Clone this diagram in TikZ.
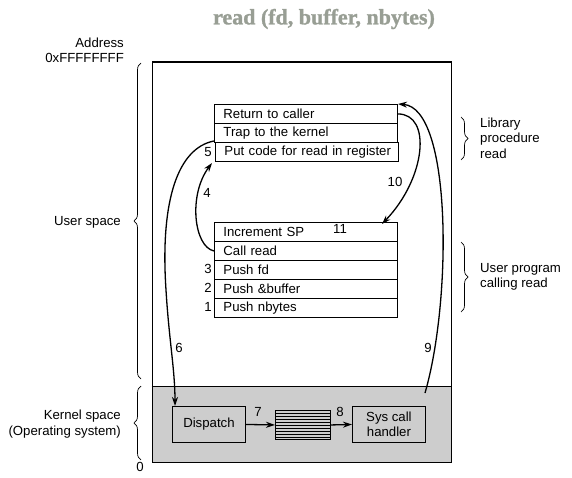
\documentclass[tikz,border=0pt]{standalone}
\usepackage{fontspec}
\setmainfont{Liberation Sans}
\newfontfamily\titlefont[FakeBold=1.2]{Liberation Serif Bold}
\usetikzlibrary{arrows.meta,decorations.pathreplacing}
\definecolor{kgray}{RGB}{205,205,205}
\definecolor{titlegray}{RGB}{152,158,148}
\begin{document}
\begin{tikzpicture}[x=1pt,y=-1pt,
  font=\fontsize{13.2}{15.5}\selectfont,
  row/.style={draw,line width=0.9pt,anchor=north west,minimum width=183pt,minimum height=19pt,
    text width=169pt,inner xsep=7pt,inner ysep=0pt,align=left},
  kbox/.style={draw,line width=0.9pt,fill=kgray,minimum width=73pt,minimum height=36pt,inner sep=0pt,align=center,anchor=north west},
  lbl/.style={inner sep=0pt},
  conn/.style={line width=1.3pt,-{Stealth[length=9pt,width=6pt]}},
  bracestyle/.style={line width=0.7pt,decorate,decoration={brace,amplitude=7pt}}
]
\useasboundingbox (0,0) rectangle (572,478);
% title
\node[lbl,text=titlegray] (title) at (324,19) {\titlefont\fontsize{22}{24}\selectfont read (fd, buffer, nbytes)};
% memory box
\fill[kgray] (151.5,386) rectangle (451,461.5);
\draw[line width=0.9pt] (151.5,386) -- (451,386);
\node[draw,line width=1.1pt,minimum width=299.5pt,minimum height=400pt,anchor=north west,inner sep=0pt] (mem) at (151.5,61.5) {};
% library procedure
\node[row] (ret) at (214,104) {\hspace*{2pt}Return to caller};
\node[row] (trap) at (214,123) {\hspace*{2pt}Trap to the kernel};
\node[row] (put) at (215,142) {\hspace*{2pt}Put code for read in register};
% user program
\node[row] (inc) at (214,222) {\hspace*{2pt}Increment SP};
\node[row] (call) at (214,241) {\hspace*{2pt}Call read};
\node[row] (pfd) at (214,260) {\hspace*{2pt}Push fd};
\node[row] (pbuf) at (214,279) {\hspace*{2pt}Push \&buffer};
\node[row] (pnb) at (214,298) {\hspace*{2pt}Push nbytes};
% kernel
\node[kbox] (disp) at (172,406) {Dispatch};
\node[kbox] (sys) at (352,406) {Sys call\\handler};
\node[draw,line width=0.9pt,fill=kgray,minimum width=55pt,minimum height=29pt,inner sep=0pt,anchor=north west] (queue) at (275,410) {};
\foreach \yy in {413,416,...,437} \draw[line width=0.8pt] (275,\yy) -- (330,\yy);
% numbers
\node[lbl] (n1) at (208,307) {1};
\node[lbl] (n2) at (208,288) {2};
\node[lbl] (n3) at (208,269) {3};
\node[lbl] (n4) at (207,193) {4};
\node[lbl] (n5) at (208,152) {5};
\node[lbl] (n6) at (179,348) {6};
\node[lbl] (n7) at (258,412) {7};
\node[lbl] (n8) at (340,412) {8};
\node[lbl] (n9) at (428,348) {9};
\node[lbl] (n10) at (395,182) {10};
\node[lbl] (n11) at (340,229) {11};
% connector end points
\coordinate (a4end) at (212,163);
\coordinate (a6start) at (214,141);
\coordinate (a6end) at (175,406);
\coordinate (a10end) at (382,224);
\coordinate (a9start) at (425,393);
\coordinate (a9end) at (398,104);
% connectors
\draw[conn] (call.west) .. controls (194,247) and (188,195) .. (a4end);
\draw[conn] (a6start) .. controls (178,148) and (160,200) .. (166,290) .. controls (169,340) and (175,370) .. (a6end);
\draw[conn] (ret.east) .. controls (432,114) and (426,178) .. (a10end);
\draw[conn] (a9start) .. controls (452,300) and (452,108) .. (a9end);
\draw[conn] (disp.east) -- (queue.west);
\draw[conn] (queue.east) -- (sys.west);
% left labels
\node[lbl,anchor=east] (addr) at (124,43) {Address};
\node[lbl,anchor=east] (addrff) at (124,58) {0xFFFFFFFF};
\node[lbl,anchor=east] (us) at (121,222) {User space};
\node[lbl,anchor=east,align=right] (ks) at (121,424) {Kernel space\\(Operating system)};
\node[lbl] (zero) at (140,467) {0};
% right labels
\node[lbl,anchor=west,align=left] (lib) at (480,138) {Library\\procedure\\read};
\node[lbl,anchor=west,align=left] (up) at (480,277) {User program\\calling read};
% braces
\coordinate (ub1) at (141,63);
\coordinate (ub2) at (141,379);
\coordinate (kb1) at (141,386);
\coordinate (kb2) at (141,460);
\coordinate (lb1) at (461,117);
\coordinate (lb2) at (461,160);
\coordinate (pb1) at (461,242);
\coordinate (pb2) at (461,312);
\draw[bracestyle] (ub2) -- (ub1);
\draw[bracestyle] (kb2) -- (kb1);
\draw[bracestyle] (lb1) -- (lb2);
\draw[bracestyle] (pb1) -- (pb2);
\end{tikzpicture}
\end{document}
